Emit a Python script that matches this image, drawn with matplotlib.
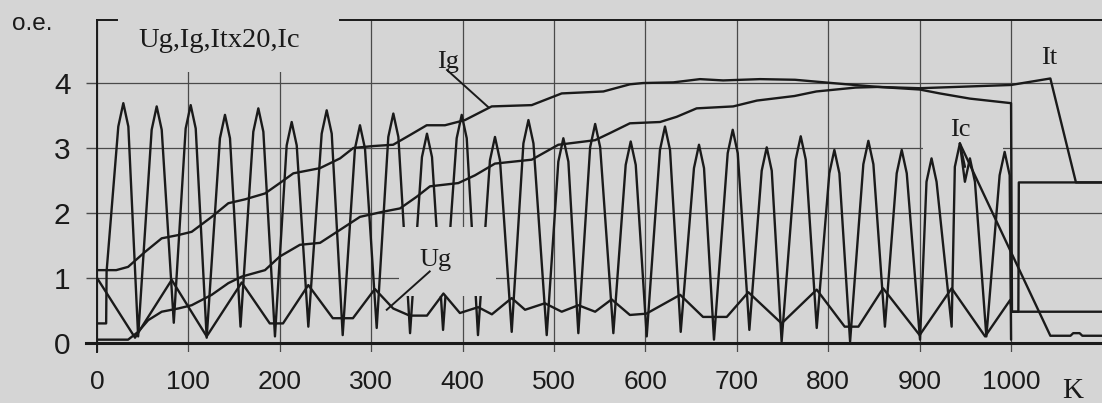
import matplotlib
matplotlib.use("Agg")
import matplotlib.pyplot as plt
import matplotlib.transforms as mtransforms
from matplotlib.patches import Rectangle

nan = float("nan")

# ---------------- data ----------------
# Ic : large oscillation -- peaks and the trough that follows each peak
ic_peak_k = [28.8, 65.3, 102.5, 140, 176.5, 213, 251.3, 287.7, 324.2, 361, 399, 435.4,
             472, 510.2, 545, 583.9, 621.4, 658.6, 695.5, 732.7, 769.9, 806.7, 843.9,
             880.4, 913, 944]
ic_peak_v = [3.69, 3.64, 3.66, 3.51, 3.61, 3.40, 3.58, 3.35, 3.53, 3.22, 3.51, 3.17,
             3.43, 3.15, 3.37, 3.10, 3.33, 3.05, 3.28, 3.01, 3.18, 2.97, 3.11,
             2.97, 2.84, 3.07]
ic_trough_k = [45, 84, 120, 157, 194.7, 231.2, 268.8, 306, 342.5, 378.6, 416.8, 453.7,
               492, 526.6, 564.9, 601.4, 638.6, 675, 713.7, 749, 787.4, 823.9, 862,
               900.4, 935]
ic_trough_v = [0.10, 0.31, 0.08, 0.25, 0.10, 0.25, 0.12, 0.23, 0.15, 0.20, 0.12, 0.17,
               0.12, 0.15, 0.15, 0.10, 0.17, 0.05, 0.20, 0.02, 0.23, 0.02, 0.25,
               0.05, 0.25]
# start of Ic (before first peak)
ic_start_k = [0, 10, 10.5]
ic_start_v = [0.30, 0.30, 1.10]
# second trace near the end (peaks 955, 993) and the final decay
ic_end_peak_k = [955, 993]
ic_end_peak_v = [2.84, 2.94]
ic_end_trough_k = [973, 1000]
ic_end_trough_v = [0.10, 0.05]
ic_tail_k = [944, 1043, 1065, 1068, 1075, 1078, 1100]
ic_tail_v = [3.07, 0.11, 0.11, 0.15, 0.15, 0.11, 0.11]
# rounded peak tops: half-width (k) and drop (o.e.) of the peak shoulders
peak_half_width = 5.5
peak_drop = 0.36

# Ug : generator voltage
ug_k = [0, 41.6, 81.7, 120, 158.3, 189, 203.5, 231.2, 258, 280, 304, 324, 342, 361,
        379, 397, 417, 432, 453.7, 468.3, 490, 508.4, 526.6, 545, 563, 583, 601,
        638, 663, 689, 712.6, 749, 787.4, 818, 833, 860, 900, 935, 971.6, 999,
        1001, 1008, 1008.5, 1100]
ug_v = [1.00, 0.08, 0.97, 0.10, 0.93, 0.30, 0.30, 0.89, 0.38, 0.38, 0.83, 0.53, 0.42, 0.42,
        0.76, 0.46, 0.55, 0.44, 0.69, 0.51, 0.61, 0.48, 0.58, 0.48, 0.67, 0.43, 0.45,
        0.74, 0.40, 0.40, 0.78, 0.30, 0.82, 0.25, 0.25, 0.84, 0.12, 0.84, 0.10, 0.66,
        0.48, 0.48, 2.47, 2.47]

# Ig : generator current
ig_k = [0, 21, 34, 52.5, 70.8, 89, 103.6, 125.5, 143.7, 162, 183.8, 200, 214.8, 244,
        265.9, 280.4, 302.3, 324, 342.5, 360.7, 380.7, 402.6, 431.8, 475.6, 508.4,
        554, 583, 597.6, 630.5, 659.7, 685, 725.4, 763.7, 803.8, 829, 854.8, 900,
        922, 955, 1000, 1001, 1100]
ig_v = [1.12, 1.12, 1.17, 1.40, 1.61, 1.66, 1.71, 1.94, 2.15, 2.21, 2.30, 2.46, 2.61, 2.69,
        2.84, 3.00, 3.03, 3.05, 3.20, 3.35, 3.35, 3.43, 3.64, 3.66, 3.84,
        3.87, 3.98, 4.00, 4.01, 4.06, 4.04, 4.06, 4.05, 4.00, 3.97, 3.94, 3.90,
        3.84, 3.76, 3.69, 0.48, 0.48]

# It x 20 : thyristor current
it_k = [0, 34, 45, 56, 70.8, 89, 103.6, 125.5, 143.7, 158.3, 183.8, 200, 222, 244,
        265.9, 287.7, 313.2, 331.5, 349.8, 364.3, 395.3, 413.6, 435.4, 475.6, 504.7,
        544.9, 561.3, 583, 616, 634.2, 656, 696, 722, 763, 787, 830, 855, 900, 1000,
        1043, 1071, 1100]
it_v = [0.05, 0.05, 0.17, 0.35, 0.48, 0.53, 0.58, 0.74, 0.92, 1.02, 1.12, 1.33, 1.51, 1.54,
        1.74, 1.94, 2.02, 2.07, 2.25, 2.41, 2.46, 2.58, 2.76, 2.82, 3.05,
        3.12, 3.23, 3.38, 3.40, 3.48, 3.61, 3.64, 3.73, 3.80, 3.87, 3.93, 3.94, 3.92, 3.97,
        4.07, 2.47, 2.47]

x_ticks = [0, 100, 200, 300, 400, 500, 600, 700, 800, 900, 1000]
y_ticks = [0, 1, 2, 3, 4]


def wave_path(peaks_k, peaks_v, troughs_k, troughs_v):
    """Vertex list alternating peak / trough, each peak drawn with two shoulders."""
    xs, ys = [], []
    for i, (pk, pv) in enumerate(zip(peaks_k, peaks_v)):
        xs += [pk - peak_half_width, pk, pk + peak_half_width]
        ys += [pv - peak_drop, pv, pv - peak_drop]
        if i < len(troughs_k):
            xs.append(troughs_k[i])
            ys.append(troughs_v[i])
    return xs, ys


main_x, main_y = wave_path(ic_peak_k, ic_peak_v, ic_trough_k, ic_trough_v)
end_x, end_y = wave_path(ic_end_peak_k, ic_end_peak_v, ic_end_trough_k, ic_end_trough_v)

# ---------------- style ----------------
BG = "#d5d5d5"
INK = "#1a1a1a"
GRID = "#4a4a4a"
SERIF = ["Liberation Serif", "DejaVu Serif"]
SANS = ["Liberation Sans", "DejaVu Sans"]

fig = plt.figure(figsize=(11.02, 4.03), dpi=100, facecolor=BG)
W, H = 1102, 403
ax = fig.add_axes([97 / W, 51 / H, 1005 / W, 332 / H], facecolor=BG)
ax.set_xlim(0, 1099.5)
ax.set_ylim(-0.14, 4.97)

ax.set_xticks(x_ticks)
ax.set_yticks(y_ticks)
ax.set_xticklabels([str(v) for v in x_ticks], fontfamily=SANS, fontsize=19, color=INK)
ax.set_yticklabels([str(v) for v in y_ticks], fontfamily=SANS, fontsize=21.5, color=INK)
ax.tick_params(axis="x", length=0, pad=13)
ax.tick_params(axis="y", length=8, width=1.0, color=GRID, direction="out", pad=11)
ax.set_axisbelow(True)
ax.grid(True, color=GRID, lw=0.9)

for s in ("top", "right", "bottom"):
    ax.spines[s].set_visible(False)
ax.spines["left"].set_color(INK)
ax.spines["left"].set_linewidth(1.4)

blend = mtransforms.blended_transform_factory(ax.transAxes, ax.transData)
ax.plot([-0.011, 1], [0, 0], transform=blend, color=INK, lw=2.2, clip_on=False, zorder=2.6)
ax.plot([0, 21.9], [4.97, 4.97], color=INK, lw=1.4, clip_on=False, zorder=4)
ax.plot([265.9, 1100], [4.97, 4.97], color=INK, lw=1.4, clip_on=False, zorder=4)

# masking boxes behind the labels
ax.add_patch(Rectangle((21.9, 4.17), 244, 0.9, facecolor=BG, edgecolor="none", zorder=1))
ax.add_patch(Rectangle((330, 0.72), 107, 1.07, facecolor=BG, edgecolor="none", zorder=2.5))
ax.add_patch(Rectangle((904, 2.95), 87, 0.5, facecolor=BG, edgecolor="none", zorder=1))

LW = 1.7
kw = dict(color=INK, lw=LW, solid_joinstyle="round", solid_capstyle="round")
ax.plot(ic_start_k + main_x, ic_start_v + main_y, zorder=2, **kw)
ax.plot([ic_peak_k[-1]] + end_x, [ic_peak_v[-1]] + end_y, zorder=2, **kw)
ax.plot(ic_tail_k, ic_tail_v, zorder=2, **kw)
ax.plot(ug_k, ug_v, zorder=3, **kw)
ax.plot(ig_k, ig_v, zorder=3, **kw)
ax.plot(it_k, it_v, zorder=3, **kw)

# annotations
ax.text(45, 4.66, "Ug,Ig,Itx20,Ic", fontfamily=SERIF, fontsize=20.5, color=INK,
        ha="left", va="center", zorder=5)
ax.text(384, 4.33, "Ig", fontfamily=SERIF, fontsize=19, color=INK, ha="center", va="center", zorder=5)
ax.plot([383, 428], [4.2, 3.63], color=INK, lw=1.4, zorder=3)
ax.text(1041.6, 4.38, "It", fontfamily=SERIF, fontsize=19, color=INK, ha="center", va="center", zorder=5)
ax.text(944, 3.27, "Ic", fontfamily=SERIF, fontsize=19, color=INK, ha="center", va="center", zorder=5)
ax.text(370, 1.28, "Ug", fontfamily=SERIF, fontsize=19, color=INK, ha="center", va="center", zorder=5)
ax.plot([364, 317], [1.10, 0.51], color=INK, lw=1.4, zorder=3)

fig.text(12 / W, 1 - 24 / H, "o.e.", fontfamily=SANS, fontsize=17.5, color=INK, ha="left", va="center")
fig.text(1073 / W, 1 - 391 / H, "K", fontfamily=SERIF, fontsize=21, color=INK, ha="center", va="center")

fig.savefig("out.png", dpi=100, facecolor=BG)
